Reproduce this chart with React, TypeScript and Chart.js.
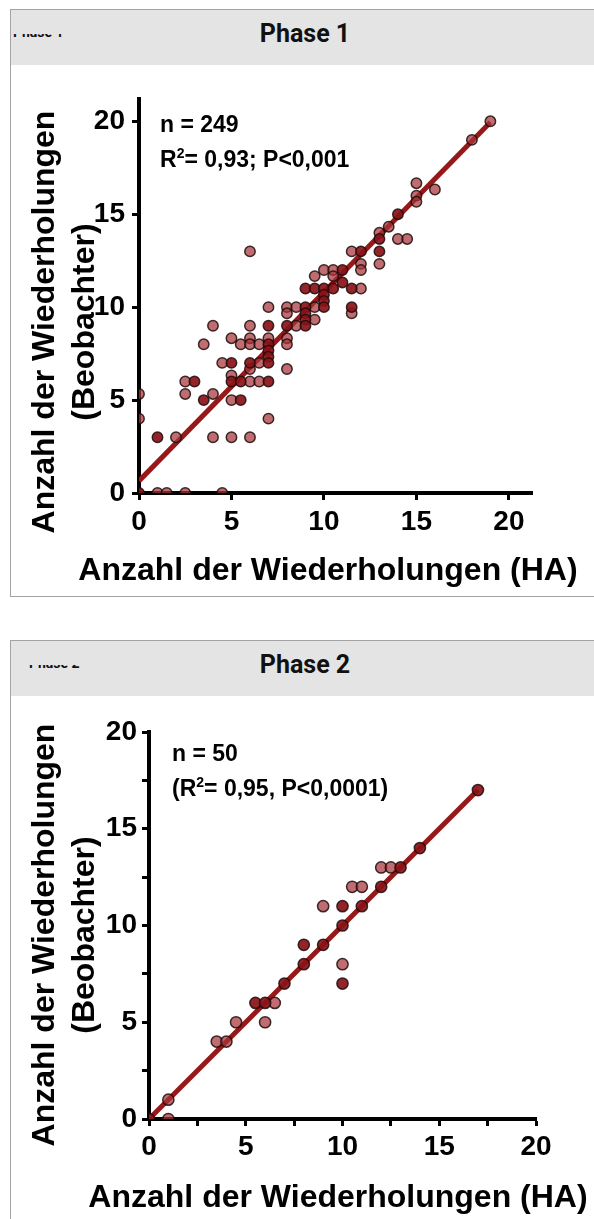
import React, { useEffect, useRef } from "react";
import { Chart, registerables } from "chart.js";

Chart.register(...registerables);

// ---------- Phase 1 data ----------
const phase1Light: [number, number][] = [
  [0, 5.33], [0, 4], [1, 0], [1.5, 0], [2.5, 0], [4.5, 0], [2, 3], [2.5, 6], [2.5, 5.33],
  [3.5, 8], [4, 9], [4, 5.33], [4, 3], [4.5, 7], [5, 8.33], [5, 6.33], [5, 5], [5, 3],
  [5.5, 8], [6, 9], [6, 8.33], [6, 8], [6, 6.67], [6, 6], [6, 3], [6.5, 8], [6.5, 7],
  [6.5, 6], [7, 8.33], [7, 4], [7, 10], [8, 10], [8, 9.67], [8, 8.33], [8, 8], [8, 6.67],
  [8.5, 10], [8.5, 9], [9.5, 9.33], [9.5, 10], [11.5, 9.67], [12, 11], [6, 13], [10, 12],
  [10.5, 12], [9.5, 11.67], [10.5, 11.67], [11.5, 13], [12, 12.33], [12, 12], [13, 12.33],
  [13, 14], [13.5, 14.33], [14, 13.67], [14.5, 13.67], [15, 16.67], [16, 16.33], [15, 16],
  [15, 15.67], [18, 19], [19, 20],
];
const phase1Dark: [number, number][] = [
  [0, 0], [1, 3], [3, 6], [3.5, 5], [5, 7], [5, 6], [5.5, 5], [5.5, 6], [6, 7], [7, 9],
  [7, 8], [7, 7.67], [7, 7.33], [7, 7], [7, 6], [8, 9], [9, 10], [9, 9.67], [9, 9.33],
  [9, 9], [9, 11], [9.5, 11], [10, 11], [10.5, 11], [10, 10.67], [10, 10.33], [10, 10],
  [11, 11.33], [11.5, 11], [11.5, 10], [11, 12], [12, 13], [13, 13], [13, 13.67], [14, 15],
];
const phase1FitX = [0, 19];
const phase1FitY = [0.65, 19.95];
const phase1XTicks = [0, 5, 10, 15, 20];
const phase1YTicks = [0, 5, 10, 15, 20];

// ---------- Phase 2 data ----------
const phase2Light: [number, number][] = [
  [1, 0], [1, 1], [3.5, 4], [4, 4], [4.5, 5], [6.5, 6], [6, 5], [9, 11], [10, 8],
  [12, 13], [12.5, 13], [10.5, 12], [11, 12],
];
const phase2Dark: [number, number][] = [
  [0, 0], [5.5, 6], [6, 6], [7, 7], [8, 8], [8, 9], [9, 9], [10, 11], [10, 10], [10, 7],
  [11, 11], [12, 12], [13, 13], [14, 14], [17, 17],
];
const phase2FitX = [0, 17];
const phase2FitY = [0, 17];
const phase2XTicks = [0, 2.5, 5, 7.5, 10, 12.5, 15, 17.5, 20];
const phase2YTicks = [0, 2.5, 5, 7.5, 10, 12.5, 15, 17.5, 20];

const xTitle = "Anzahl der Wiederholungen (HA)";
const yTitle = ["Anzahl der Wiederholungen", "(Beobachter)"];

const ARIAL = '"Liberation Sans", Arial, Helvetica, sans-serif';
const LIGHT = "rgba(168, 52, 58, 0.72)";
const DARK = "rgba(138, 18, 24, 0.92)";
const EDGE = "rgba(30, 12, 12, 0.85)";
const LINE = "rgb(150, 24, 24)";

type PanelCfg = {
  light: [number, number][];
  dark: [number, number][];
  fitX: number[];
  fitY: number[];
  xTicks: number[];
  yTicks: number[];
  xMax: number;
  yMax: number;
  canvasW: number;
  canvasH: number;
  yAxisW: number;
  xAxisH: number;
  padTop: number;
  padRight: number;
  xLabelPad: number;
  yLabelPad: number;
  radius: number;
};

function axis(isX: boolean, ticksArr: number[], max: number, size: number, pad: number) {
  return {
    type: "linear" as const,
    position: isX ? "bottom" : "left",
    min: 0,
    max,
    afterBuildTicks: (s: any) => {
      s.ticks = ticksArr.map((v) => ({ value: v }));
    },
    afterFit: (s: any) => {
      if (isX) s.height = size;
      else s.width = size;
    },
    ticks: {
      autoSkip: false,
      maxRotation: 0,
      minRotation: 0,
      padding: pad,
      color: "#000",
      font: { family: ARIAL, size: 28, weight: "bold" as const, lineHeight: 1.2 },
      callback: (v: any) => (Number(v) % 5 === 0 ? String(v) : ""),
    },
    grid: {
      display: true,
      drawOnChartArea: false,
      drawTicks: true,
      tickLength: 7,
      tickWidth: 3,
      tickColor: "#000",
      color: "#000",
    },
    border: { display: true, color: "#000", width: 4 },
    title: { display: false },
  };
}

function ScatterCanvas({ cfg }: { cfg: PanelCfg }) {
  const ref = useRef<HTMLCanvasElement | null>(null);
  useEffect(() => {
    if (!ref.current) return;
    const chart = new Chart(ref.current, {
      type: "scatter",
      data: {
        datasets: [
          {
            data: cfg.fitX.map((x, i) => ({ x, y: cfg.fitY[i] })),
            showLine: true,
            borderColor: LINE,
            borderWidth: 5,
            pointRadius: 0,
            order: 3,
            clip: 0,
          } as any,
          {
            data: cfg.light.map(([x, y]) => ({ x, y })),
            backgroundColor: LIGHT,
            borderColor: EDGE,
            borderWidth: 1.5,
            pointRadius: cfg.radius,
            order: 2,
            clip: 0,
          } as any,
          {
            data: cfg.dark.map(([x, y]) => ({ x, y })),
            backgroundColor: DARK,
            borderColor: EDGE,
            borderWidth: 1.5,
            pointRadius: cfg.radius,
            order: 1,
            clip: 0,
          } as any,
        ],
      },
      options: {
        animation: false,
        responsive: false,
        devicePixelRatio: 1,
        events: [],
        layout: { padding: { top: cfg.padTop, right: cfg.padRight, left: 0, bottom: 0 } },
        plugins: { legend: { display: false }, tooltip: { enabled: false } },
        scales: {
          x: axis(true, cfg.xTicks, cfg.xMax, cfg.xAxisH, cfg.xLabelPad) as any,
          y: axis(false, cfg.yTicks, cfg.yMax, cfg.yAxisW, cfg.yLabelPad) as any,
        },
      },
    });
    return () => chart.destroy();
  }, [cfg]);
  return (
    <canvas
      ref={ref}
      width={cfg.canvasW}
      height={cfg.canvasH}
      style={{ position: "absolute", left: 0, top: 55, width: cfg.canvasW, height: cfg.canvasH }}
    />
  );
}

const phase1Cfg: PanelCfg = {
  light: phase1Light,
  dark: phase1Dark,
  fitX: phase1FitX,
  fitY: phase1FitY,
  xTicks: phase1XTicks,
  yTicks: phase1YTicks,
  xMax: 21.25,
  yMax: 21.2,
  canvasW: 583,
  canvasH: 531,
  yAxisW: 128,
  xAxisH: 103,
  padTop: 34,
  padRight: 62,
  xLabelPad: 5,
  yLabelPad: 7,
  radius: 5.2,
};

const phase2Cfg: PanelCfg = {
  light: phase2Light,
  dark: phase2Dark,
  fitX: phase2FitX,
  fitY: phase2FitY,
  xTicks: phase2XTicks,
  yTicks: phase2YTicks,
  xMax: 20,
  yMax: 20,
  canvasW: 583,
  canvasH: 523,
  yAxisW: 138,
  xAxisH: 100,
  padTop: 36,
  padRight: 58,
  xLabelPad: 4,
  yLabelPad: 5,
  radius: 5.6,
};

function Panel({ top, height, title, clipLeft, cfg }: { top: number; height: number; title: string; clipLeft: number; cfg: PanelCfg }) {
  return (
    <div
      style={{
        position: "absolute",
        left: 10,
        top,
        width: 700,
        height,
        border: "1px solid #a3a3a3",
        background: "#fff",
      }}
    >
      <div style={{ position: "absolute", left: 0, top: 0, width: "100%", height: 55, background: "#e4e4e4" }} />
      <div
        style={{
          position: "absolute",
          left: 294,
          top: 11,
          transform: "translateX(-50%)",
          whiteSpace: "nowrap",
          fontFamily: "Roboto, sans-serif",
          fontWeight: 700,
          fontSize: 25,
          lineHeight: "25px",
          color: "#111",
        }}
      >
        {title}
      </div>
      <div
        style={{
          position: "absolute",
          left: clipLeft,
          top: 24,
          height: 3,
          overflow: "hidden",
          whiteSpace: "nowrap",
          fontFamily: "Roboto, sans-serif",
          fontWeight: 700,
          fontSize: 14,
          lineHeight: "14px",
          color: "#111",
        }}
      >
        <div style={{ marginTop: -9.5 }}>{title}</div>
      </div>
      <ScatterCanvas cfg={cfg} />
    </div>
  );
}

function YTitle({ cx, cy }: { cx: number; cy: number }) {
  return (
    <div
      style={{
        position: "absolute",
        left: cx - 260,
        top: cy - 40,
        width: 520,
        height: 80,
        transform: "rotate(-90deg)",
        textAlign: "center",
        fontFamily: ARIAL,
        fontWeight: 700,
        fontSize: 32,
        lineHeight: "40px",
        color: "#000",
        whiteSpace: "nowrap",
      }}
    >
      <div>{yTitle[0]}</div>
      <div>{yTitle[1]}</div>
    </div>
  );
}

function XTitle({ cx, top }: { cx: number; top: number }) {
  return (
    <div
      style={{
        position: "absolute",
        left: cx,
        top,
        transform: "translateX(-50%)",
        whiteSpace: "nowrap",
        fontFamily: ARIAL,
        fontWeight: 700,
        fontSize: 32,
        lineHeight: "32px",
        color: "#000",
      }}
    >
      {xTitle}
    </div>
  );
}

function Note({ left, top, children }: { left: number; top: number; children: React.ReactNode }) {
  return (
    <div
      style={{
        position: "absolute",
        left,
        top,
        whiteSpace: "nowrap",
        fontFamily: ARIAL,
        fontWeight: 700,
        fontSize: 23,
        lineHeight: "23px",
        color: "#000",
      }}
    >
      {children}
    </div>
  );
}

const Sup = ({ t }: { t: string }) => (
  <span style={{ fontSize: 14, position: "relative", top: -9 }}>{t}</span>
);

export default function App() {
  useEffect(() => {
    document.body.style.margin = "0";
  }, []);
  return (
    <div style={{ position: "fixed", left: 0, top: 0, width: 594, height: 1219, overflow: "hidden", background: "#fff" }}>
      <Panel top={9} height={586} title="Phase 1" clipLeft={2} cfg={phase1Cfg} />
      <Panel top={640} height={700} title="Phase 2" clipLeft={18} cfg={phase2Cfg} />

      <YTitle cx={63} cy={322} />
      <XTitle cx={328} top={553} />
      <Note left={160} top={113}>n = 249</Note>
      <Note left={160} top={148}>
        R<Sup t="2" />= 0,93; P&lt;0,001
      </Note>

      <YTitle cx={63} cy={935} />
      <XTitle cx={338} top={1180} />
      <Note left={172} top={742}>n = 50</Note>
      <Note left={172} top={777}>
        (R<Sup t="2" />= 0,95, P&lt;0,0001)
      </Note>
    </div>
  );
}
